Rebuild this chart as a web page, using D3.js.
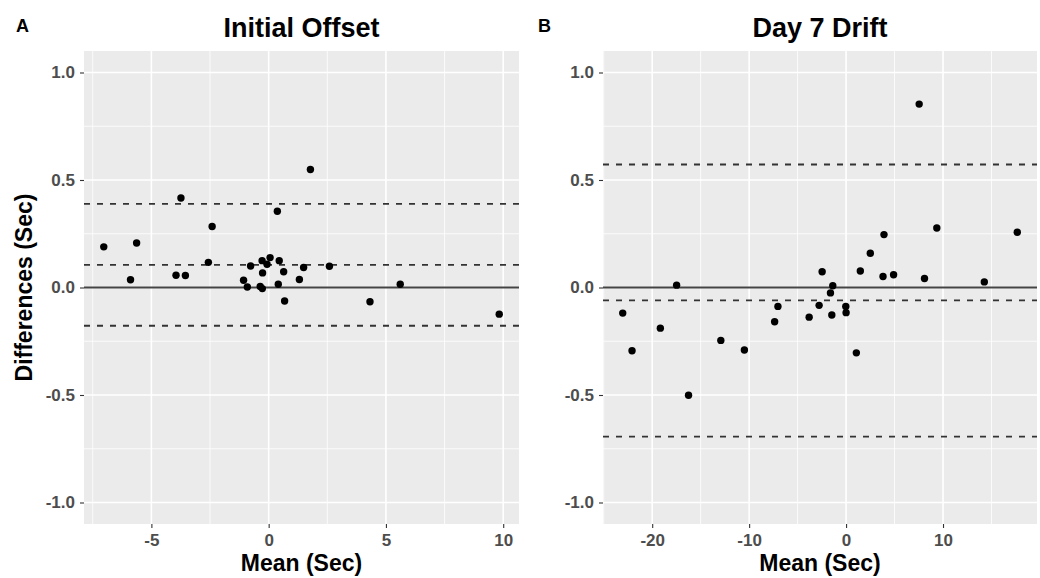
<!DOCTYPE html>
<html>
<head>
<meta charset="utf-8">
<script src="https://cdn.jsdelivr.net/npm/d3@7"></script>
<style>
  html, body { margin: 0; padding: 0; background: #fff; }
  svg { display: block; font-family: "Liberation Sans", Arial, sans-serif; }
</style>
</head>
<body>
<svg id="chart" width="1040" height="578"></svg>
<script>
// ---- Data ----
const panelLabels = ["A", "B"];
const panelTitles = ["Initial Offset", "Day 7 Drift"];

const initialMean = [-7.03, -5.63, -5.89, -3.74, -3.95, -3.55, -2.41, -2.57, -1.07, -0.91,
  -0.77, -0.36, -0.27, -0.28, -0.26, -0.07, 0.06, 0.37, 0.45, 0.41,
  0.64, 0.68, 1.31, 1.49, 1.78, 2.59, 4.32, 5.61, 9.83];
const initialDiff = [0.189, 0.207, 0.036, 0.416, 0.057, 0.056, 0.284, 0.117, 0.034, 0.002,
  0.100, 0.005, -0.005, 0.125, 0.068, 0.108, 0.139, 0.355, 0.125, 0.015,
  0.073, -0.063, 0.037, 0.093, 0.549, 0.099, -0.066, 0.015, -0.124];

const driftMean = [-23.04, -22.08, -19.16, -17.48, -16.25, -12.92, -10.49, -7.37, -7.03, -3.81,
  -2.78, -2.47, -1.61, -1.47, -1.37, -0.03, 0.00, 1.06, 1.47, 2.50,
  3.81, 3.91, 4.90, 7.54, 8.09, 9.36, 14.26, 17.66];
const driftDiff = [-0.119, -0.294, -0.189, 0.011, -0.501, -0.246, -0.291, -0.159, -0.088, -0.138,
  -0.083, 0.073, -0.025, -0.128, 0.008, -0.088, -0.117, -0.304, 0.077, 0.159,
  0.051, 0.246, 0.059, 0.853, 0.042, 0.277, 0.026, 0.257];

// bias and limits of agreement (lower, mean, upper)
const initialLimits = [-0.178, 0.105, 0.389];
const driftLimits = [-0.694, -0.060, 0.572];

const initialXTicks = [-5, 0, 5, 10];
const initialXTickLabels = ["-5", "0", "5", "10"];
const driftXTicks = [-20, -10, 0, 10];
const driftXTickLabels = ["-20", "-10", "0", "10"];
const yTicks = [-1.0, -0.5, 0.0, 0.5, 1.0];
const yTickLabels = ["-1.0", "-0.5", "0.0", "0.5", "1.0"];
const yLimits = [-1, 1];

const xTitle = "Mean (Sec)";
const yTitle = "Differences (Sec)";

// ---- Drawing ----
const svg = d3.select("#chart");
const panelTop = 51, panelBottom = 524;

const panels = [
  { label: panelLabels[0], title: panelTitles[0], xs: initialMean, ys: initialDiff,
    limits: initialLimits, xticks: initialXTicks, xlabels: initialXTickLabels,
    left: 84, right: 519, labelX: 16, showYTitle: true },
  { label: panelLabels[1], title: panelTitles[1], xs: driftMean, ys: driftDiff,
    limits: driftLimits, xticks: driftXTicks, xlabels: driftXTickLabels,
    left: 603, right: 1037, labelX: 538, showYTitle: false }
];

function expand(ext, mult) {
  const r = ext[1] - ext[0];
  return [ext[0] - r * mult, ext[1] + r * mult];
}

panels.forEach(p => {
  const xExt = expand(d3.extent(p.xs), 0.05);
  const yExt = expand(yLimits, 0.05);
  const x = d3.scaleLinear().domain(xExt).range([p.left, p.right]);
  const y = d3.scaleLinear().domain(yExt).range([panelBottom, panelTop]);
  const g = svg.append("g");

  // background
  g.append("rect").attr("x", p.left).attr("y", panelTop)
    .attr("width", p.right - p.left).attr("height", panelBottom - panelTop)
    .attr("fill", "#EBEBEB");

  // minor grid
  const step = p.xticks[1] - p.xticks[0];
  const xMinor = d3.range(Math.ceil(xExt[0] / step - 0.5), Math.floor(xExt[1] / step - 0.5) + 1)
    .map(k => (k + 0.5) * step).filter(v => v >= xExt[0] && v <= xExt[1]);
  const yMinor = [-0.75, -0.25, 0.25, 0.75];
  g.selectAll(".xminor").data(xMinor).enter().append("line")
    .attr("x1", d => x(d)).attr("x2", d => x(d)).attr("y1", panelTop).attr("y2", panelBottom)
    .attr("stroke", "#fff").attr("stroke-width", 0.8);
  g.selectAll(".yminor").data(yMinor).enter().append("line")
    .attr("y1", d => y(d)).attr("y2", d => y(d)).attr("x1", p.left).attr("x2", p.right)
    .attr("stroke", "#fff").attr("stroke-width", 0.8);
  // major grid
  g.selectAll(".xmajor").data(p.xticks).enter().append("line")
    .attr("x1", d => x(d)).attr("x2", d => x(d)).attr("y1", panelTop).attr("y2", panelBottom)
    .attr("stroke", "#fff").attr("stroke-width", 1.6);
  g.selectAll(".ymajor").data(yTicks).enter().append("line")
    .attr("y1", d => y(d)).attr("y2", d => y(d)).attr("x1", p.left).attr("x2", p.right)
    .attr("stroke", "#fff").attr("stroke-width", 1.6);

  // zero line
  g.append("line").attr("x1", p.left).attr("x2", p.right)
    .attr("y1", y(0)).attr("y2", y(0))
    .attr("stroke", "#444").attr("stroke-width", 1.8);
  // limits of agreement
  g.selectAll(".loa").data(p.limits).enter().append("line")
    .attr("x1", p.left).attr("x2", p.right)
    .attr("y1", d => y(d)).attr("y2", d => y(d))
    .attr("stroke", "#333").attr("stroke-width", 1.8)
    .attr("stroke-dasharray", "6,7");

  // points
  g.selectAll(".pt").data(p.xs.map((v, i) => [v, p.ys[i]])).enter().append("circle")
    .attr("cx", d => x(d[0])).attr("cy", d => y(d[1])).attr("r", 3.7)
    .attr("fill", "#000");

  // axes
  const xAxis = d3.axisBottom(x).tickValues(p.xticks).tickSize(4).tickPadding(6)
    .tickFormat((d, i) => p.xlabels[i]);
  const xa = g.append("g").attr("transform", `translate(0,${panelBottom})`).call(xAxis);
  const yAxis = d3.axisLeft(y).tickValues(yTicks).tickSize(4).tickPadding(5)
    .tickFormat((d, i) => yTickLabels[i]);
  const ya = g.append("g").attr("transform", `translate(${p.left},0)`).call(yAxis);
  [xa, ya].forEach(a => {
    a.select(".domain").remove();
    a.selectAll(".tick line").attr("stroke", "#333").attr("stroke-width", 1.1);
    a.selectAll(".tick text").attr("fill", "#4D4D4D")
      .style("font-size", "17px").style("font-weight", "bold")
      .style("font-family", "'Liberation Sans', Arial, sans-serif");
  });

  // titles
  const cx = (p.left + p.right) / 2;
  svg.append("text").attr("x", cx).attr("y", 36.5).attr("text-anchor", "middle")
    .style("font-size", "27px").style("font-weight", "bold").attr("fill", "#000")
    .text(p.title);
  svg.append("text").attr("x", p.labelX).attr("y", 31.5)
    .style("font-size", "18px").style("font-weight", "bold").attr("fill", "#000")
    .text(p.label);
  svg.append("text").attr("x", cx).attr("y", 571).attr("text-anchor", "middle")
    .style("font-size", "23px").style("font-weight", "bold").attr("fill", "#000")
    .text(xTitle);
  if (p.showYTitle) {
    svg.append("text")
      .attr("transform", `translate(31.5,${(panelTop + panelBottom) / 2}) rotate(-90)`)
      .attr("text-anchor", "middle")
      .style("font-size", "23px").style("font-weight", "bold").attr("fill", "#000")
      .text(yTitle);
  }
});
</script>
</body>
</html>
